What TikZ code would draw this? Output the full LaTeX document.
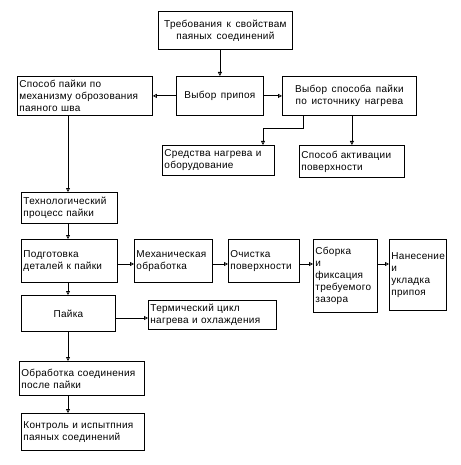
\documentclass[tikz,border=0pt]{standalone}
\usepackage{fontspec}
\setmainfont[LetterSpace=3,WordSpace=1.5]{Liberation Sans}
\usetikzlibrary{arrows.meta,calc}
\begin{document}
\begin{tikzpicture}[x=1pt,y=-1pt,
  box/.style={draw,line width=0.8pt,inner sep=2pt,anchor=north west,font=\fontsize{10}{12}\selectfont},
  lbox/.style={box,align=left},
  cbox/.style={box,align=center},
  conn/.style={line width=0.8pt,-{Triangle[open,length=4pt,width=4pt]}},
  plain/.style={line width=0.8pt}]
\useasboundingbox (0,0) rectangle (460,465);
% boxes
\node[cbox,minimum width=134pt,minimum height=38pt] (treb) at (158,11) {Требования к свойствам\\паяных соединений};
\node[lbox,minimum width=135pt,minimum height=39pt,text width=131pt] (spos) at (17,76) {Способ пайки по\\механизму оброзования\\паяного шва};
\node[cbox,minimum width=87pt,minimum height=39pt] (vyb) at (176,76) {Выбор припоя};
\node[cbox,minimum width=134pt,minimum height=39pt] (vsp) at (282,76) {Выбор способа пайки\\по источнику нагрева};
\node[lbox,minimum width=112pt,minimum height=30pt,text width=108pt] (sred) at (162,145) {Средства нагрева и\\оборудование};
\node[lbox,minimum width=105pt,minimum height=32pt,text width=101pt] (akt) at (299,145) {Способ активации\\поверхности};
\node[lbox,minimum width=96pt,minimum height=31pt,text width=92pt] (tech) at (21,192) {Технологический\\процесс пайки};
\node[lbox,minimum width=96pt,minimum height=43pt,text width=92pt] (pod) at (21,239) {Подготовка\\деталей к пайки};
\node[lbox,minimum width=78pt,minimum height=43pt,text width=74pt] (mech) at (134,239) {Механическая\\обработка};
\node[lbox,minimum width=71pt,minimum height=43pt,text width=67pt] (och) at (228,239) {Очистка\\поверхности};
\node[lbox,minimum width=64pt,minimum height=73pt,text width=60pt] (sbor) at (313,239) {Сборка\\и\\фиксация\\требуемого\\зазора};
\node[lbox,minimum width=57pt,minimum height=71pt,text width=53pt] (nan) at (389,239) {Нанесение\\и\\укладка\\припоя};
\node[cbox,minimum width=94pt,minimum height=36pt] (payka) at (21,295) {Пайка};
\node[lbox,minimum width=128pt,minimum height=29pt,text width=124pt] (term) at (148,300) {Термический цикл\\нагрева и охлаждения};
\node[lbox,minimum width=125pt,minimum height=34pt,text width=121pt] (obr) at (19,361) {Обработка соединения\\после пайки};
\node[lbox,minimum width=123pt,minimum height=37pt,text width=119pt] (kont) at (21,413) {Контроль и испытпния\\паяных соединений};
% helper coordinates
\coordinate (row) at (0,264);
\coordinate (trow) at (0,318);
\coordinate (colL) at (68,0);
\coordinate (bend) at (0,128);
\coordinate (vs1) at ($(vsp.south west)+(21,0)$);
\coordinate (sr1) at ($(sred.north west)+(101,0)$);
% connectors
\draw[conn] (vyb.north |- treb.south) -- (vyb.north);
\draw[conn] (vyb.west) -- (spos.east |- vyb.west);
\draw[conn] (vyb.east) -- (vsp.west |- vyb.east);
\draw[conn] (vs1) -- (vs1 |- bend) -- (sr1 |- bend) -- (sr1);
\draw[conn] (akt.north |- vsp.south) -- (akt.north);
\draw[conn] (colL |- spos.south) -- (colL |- tech.north);
\draw[conn] (colL |- tech.south) -- (colL |- pod.north);
\draw[conn] (colL |- pod.south) -- (colL |- payka.north);
\draw[conn] (colL |- payka.south) -- (colL |- obr.north);
\draw[conn] (colL |- obr.south) -- (colL |- kont.north);
\draw[conn] (pod.east |- row) -- (mech.west |- row);
\draw[conn] (mech.east |- row) -- (och.west |- row);
\draw[conn] (och.east |- row) -- (sbor.west |- row);
\draw[conn] (sbor.east |- row) -- (nan.west |- row);
\draw[conn] (payka.east |- trow) -- (term.west |- trow);
\end{tikzpicture}
\end{document}
